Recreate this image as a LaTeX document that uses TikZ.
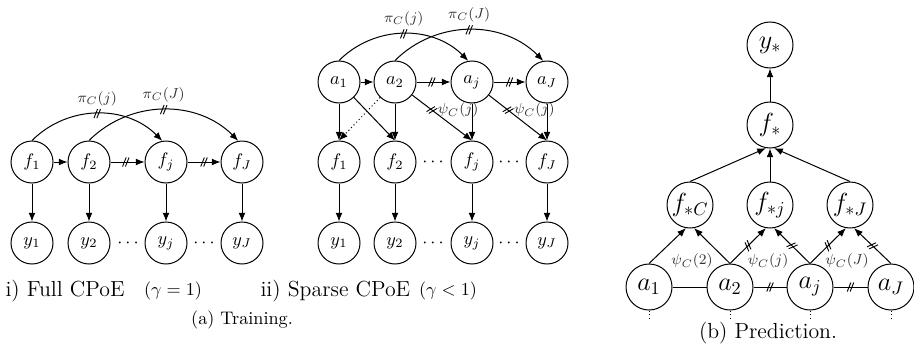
\documentclass[tikz,border=0pt]{standalone}
\usetikzlibrary{arrows.meta,decorations.markings}
\begin{document}
\begin{tikzpicture}[x=0.55pt,y=-0.55pt,line width=0.55pt,
  var/.style={circle,draw,minimum size=23.1pt,inner sep=0pt,font=\normalsize},
  bvar/.style={var,minimum size=25.3pt,font=\Large},
  arr/.style={-{Latex[length=4.8pt,width=3.8pt]}},
  cut/.style={postaction={decorate,decoration={markings,mark=at position #1 with {%
      \draw[solid,-,line width=0.5pt] (-1.8pt,-2.5pt)--(0.2pt,2.5pt) (-0.2pt,-2.5pt)--(1.8pt,2.5pt);}}}},
  lab/.style={font=\footnotesize,text=black!80,inner sep=1pt},
  dotline/.style={dash pattern=on 0.55pt off 1.5pt}
]
\useasboundingbox (0,0) rectangle (914,351);

% ---------- i) full CPoE ----------
\node[var] (f1) at (32,162) {$f_1$};
\node[var] (f2) at (89,162) {$f_2$};
\node[var] (fj) at (166,162) {$f_j$};
\node[var] (fJ) at (242,162) {$f_J$};
\node[var] (y1) at (32,243) {$y_1$};
\node[var] (y2) at (89,243) {$y_2$};
\node[var] (yj) at (166,243) {$y_j$};
\node[var] (yJ) at (242,243) {$y_J$};
\node (yd1) at (128,243) {$\cdots$};
\node (yd2) at (204,243) {$\cdots$};
\draw[arr] (f1) -- (f2);
\draw[arr,cut=0.45] (f2) -- (fj);
\draw[arr,cut=0.5] (fj) -- (fJ);
\foreach \n in {1,2,j,J} \draw[arr] (f\n) -- (y\n);
\draw[arr,cut=0.5] (f1.north) to[bend left=45] node[midway,above=3pt,lab] {$\pi_C(j)$} (fj.100);
\draw[arr,cut=0.5] (f2.north) to[bend left=45] node[midway,above=3pt,lab] {$\pi_C(J)$} (fJ.100);

% ---------- ii) sparse CPoE ----------
\node[var] (sa1) at (339,82) {$a_1$};
\node[var] (sa2) at (395,82) {$a_2$};
\node[var] (saj) at (472,82) {$a_j$};
\node[var] (saJ) at (547,82) {$a_J$};
\node[var] (sf1) at (339,162) {$f_1$};
\node[var] (sf2) at (395,162) {$f_2$};
\node[var] (sfj) at (472,162) {$f_j$};
\node[var] (sfJ) at (547,162) {$f_J$};
\node[var] (sy1) at (339,243) {$y_1$};
\node[var] (sy2) at (395,243) {$y_2$};
\node[var] (syj) at (472,243) {$y_j$};
\node[var] (syJ) at (547,243) {$y_J$};
\node (sfd1) at (433,162) {$\cdots$};
\node (sfd2) at (509,162) {$\cdots$};
\node (syd1) at (433,243) {$\cdots$};
\node (syd2) at (509,243) {$\cdots$};
\draw[arr] (sa1) -- (sa2);
\draw[arr,cut=0.45] (sa2) -- (saj);
\draw[arr,cut=0.5] (saj) -- (saJ);
\foreach \n in {1,2,j,J} {
  \draw[arr] (sa\n) -- (sf\n);
  \draw[arr] (sf\n) -- (sy\n);
}
\draw[arr] (sa1) -- (sf2.north);
\draw[arr,dotline] (sa2) -- (sf1.north);
\draw[arr,cut=0.33] (sa2) -- node[pos=0.33,anchor=west,lab,xshift=2pt] {$\psi_C(j)$} (sfj.north);
\draw[arr,cut=0.33] (saj) -- node[pos=0.33,anchor=west,lab,xshift=2pt] {$\psi_C(j)$} (sfJ.north);
\draw[arr,cut=0.5] (sa1.north) to[bend left=45] node[midway,above=3pt,lab] {$\pi_C(j)$} (saj.100);
\draw[arr,cut=0.5] (sa2.north) to[bend left=45] node[midway,above=3pt,lab] {$\pi_C(J)$} (saJ.100);

% ---------- captions of (a) ----------
\node[anchor=west,font=\large] (capi) at (-1,291) {i) Full CPoE};
\node (gami) at (173,291) {$(\gamma=1)$};
\node[anchor=west,font=\large] (capii) at (254,291) {ii) Sparse CPoE};
\node (gamii) at (448,291) {$(\gamma<1)$};
\node (capa) at (242,320) {(a) Training.};

% ---------- (b) prediction ----------
\node[bvar] (py) at (770,45) {$y_*$};
\node[bvar] (pf) at (770,125) {$f_*$};
\node[bvar] (pfC) at (690,205) {$f_{*C}$};
\node[bvar] (pfj) at (770,205) {$f_{*j}$};
\node[bvar] (pfJ) at (850,205) {$f_{*J}$};
\node[bvar] (pa1) at (649,287) {$a_1$};
\node[bvar] (pa2) at (730,287) {$a_2$};
\node[bvar] (paj) at (810,287) {$a_j$};
\node[bvar] (paJ) at (891,287) {$a_J$};
\draw[arr] (pf) -- (py);
\draw[arr] (pfC.north) -- (pf.-100);
\draw[arr] (pfj) -- (pf);
\draw[arr] (pfJ.north) -- (pf.-80);
\draw[arr] (pa1.north) -- (pfC.-100);
\draw[arr] (pa2.north) -- (pfC.-80);
\draw[arr,cut=0.5] (pa2.north) -- (pfj.-100);
\draw[arr,cut=0.5] (paj.north) -- (pfj.-80);
\draw[arr,cut=0.5] (paj.north) -- (pfJ.-100);
\draw[arr,cut=0.5] (paJ.north) -- (pfJ.-80);
\draw (pa1) -- (pa2);
\draw[cut=0.5] (pa2) -- (paj);
\draw[cut=0.5] (paj) -- (paJ);
\foreach \n in {1,2,j,J} {
  \coordinate (pt\n) at ([yshift=-5pt]pa\n.south);
  \draw[dotline] (pa\n.south) -- (pt\n);
}
\node[lab] (psi2) at (692,261) {$\psi_C(2)$};
\node[lab] (psij) at (768,261) {$\psi_C(j)$};
\node[lab] (psiJ) at (847,261) {$\psi_C(J)$};
\node[font=\large] (capb) at (768,333) {(b) Prediction.};
\end{tikzpicture}
\end{document}
